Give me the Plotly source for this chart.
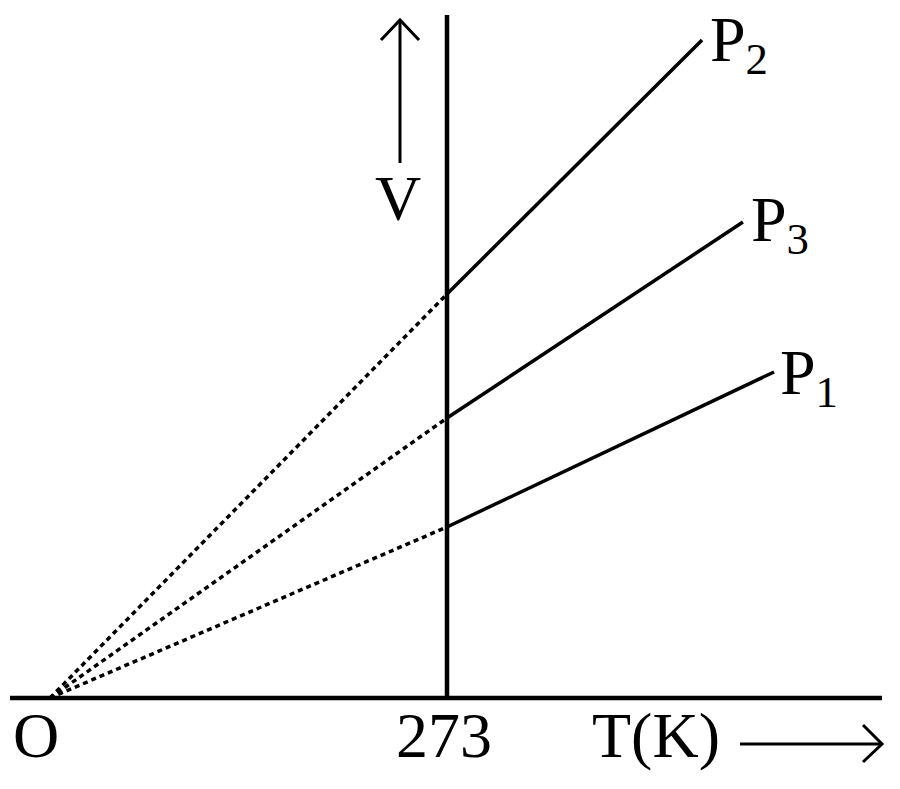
import plotly.graph_objects as go

# pressures and their V-T lines (V in arbitrary units, T in K)
labels = ['P<sub>1</sub>', 'P<sub>2</sub>', 'P<sub>3</sub>']
t_ref = 273
v_at_ref = [117.6, 277.8, 192.5]   # volume where each line meets T = 273 K
t_end = [497.9, 448.4, 476.5]      # temperature at the end of each solid line
v_end = [224.2, 452.5, 327.3]

# pixel scale used to lay out the decorations (origin at px 50, 698 of the page)
s = (447 - 50) / 273.0
def px(x, y):
    return (x - 50) / s, (698 - y) / s

# the page body has an 8px margin, so the figure starts at page px 8
OFF = 8
W, H = 900 - OFF, 789 - OFF

font = dict(family='Liberation Serif', size=64, color='black')

fig = go.Figure()

# dotted extrapolations back to the origin
for v in v_at_ref:
    fig.add_trace(go.Scatter(x=[0, t_ref], y=[0, v], mode='lines',
                             line=dict(color='black', width=3.5, dash='5px,4px'),
                             showlegend=False, hoverinfo='skip'))

# solid measured parts
for v0, t1, v1 in zip(v_at_ref, t_end, v_end):
    fig.add_trace(go.Scatter(x=[t_ref, t1], y=[v0, v1], mode='lines',
                             line=dict(color='black', width=3.5),
                             showlegend=False, hoverinfo='skip'))

# axis line and the 273 K line
x0, _ = px(10, 698)
x1, _ = px(882, 698)
fig.add_shape(type='line', x0=x0, x1=x1, y0=0, y1=0, line=dict(color='black', width=4.5))
_, ytop = px(447, 15)
fig.add_shape(type='line', x0=t_ref, x1=t_ref, y0=0, y1=ytop, line=dict(color='black', width=4.5))

# arrows
def path(points):
    p = [px(*pt) for pt in points]
    return 'M ' + ' L '.join('%.2f,%.2f' % q for q in p)

arrow = dict(color='black', width=3)
fig.add_shape(type='path', path=path([(400, 163), (400, 20)]), line=arrow)
fig.add_shape(type='path', path=path([(381, 40), (400, 20), (419, 40)]), line=arrow)
fig.add_shape(type='path', path=path([(740, 744), (882, 744)]), line=arrow)
fig.add_shape(type='path', path=path([(863, 725), (882, 744), (863, 762)]), line=arrow)

# texts
def label(text, x, y, xanchor='center'):
    ax, ay = px(x, y)
    fig.add_annotation(x=ax, y=ay, text=text, showarrow=False, font=font,
                       xanchor=xanchor, yanchor='middle')

label('O', 36, 735)
label('273', 444, 735)
label('T(K)', 656, 735)
label('V', 398, 198)
label_pos = [(778, 377), (708, 44), (749, 224)]
for text, (lx, ly) in zip(labels, label_pos):
    label(text, lx, ly, xanchor='left')

xr0, yr0 = px(OFF, 789)
xr1, yr1 = px(900, OFF)
fig.update_xaxes(range=[xr0, xr1], visible=False)
fig.update_yaxes(range=[yr0, yr1], visible=False)
fig.update_layout(width=W, height=H, margin=dict(l=0, r=0, t=0, b=0),
                  plot_bgcolor='white', paper_bgcolor='white')

fig.write_html('out.html')
